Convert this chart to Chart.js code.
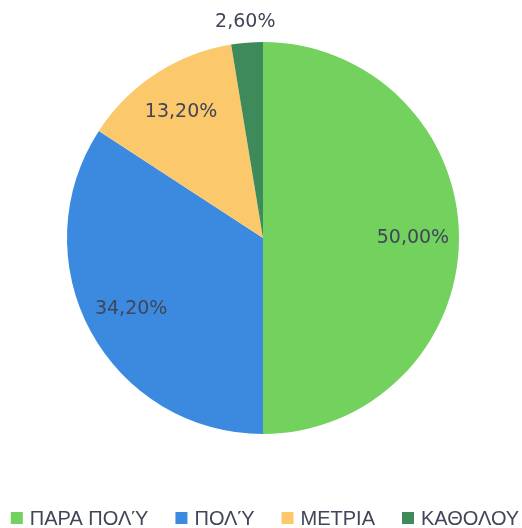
<!DOCTYPE html>
<html>
<head>
<meta charset="utf-8">
<script src="https://cdn.jsdelivr.net/npm/chart.js@4/dist/chart.umd.min.js"></script>
<style>
  html, body { margin: 0; padding: 0; background: #ffffff; }
  #wrap { width: 522px; height: 528px; position: relative; }
</style>
</head>
<body>
<div id="wrap"><canvas id="c" width="522" height="528"></canvas></div>
<script>
const categories = ["ΠΑΡΑ ΠΟΛΎ", "ΠΟΛΎ", "ΜΕΤΡΙΑ", "ΚΑΘΟΛΟΥ"];
const percentages = [50.0, 34.2, 13.2, 2.6];
const valueLabels = ["50,00%", "34,20%", "13,20%", "2,60%"];
const sliceColors = ["#72d25d", "#3b8ae0", "#fbc86c", "#3e8a5a"];
const textColor = "#404658";

const labelPlugin = {
  id: "sliceLabels",
  afterDatasetsDraw(chart) {
    const ctx = chart.ctx;
    const meta = chart.getDatasetMeta(0);
    ctx.save();
    ctx.font = "19px 'DejaVu Sans'";
    ctx.fillStyle = textColor;
    ctx.textAlign = "center";
    ctx.textBaseline = "middle";
    meta.data.forEach((arc, i) => {
      const p = arc.getProps(["x", "y", "startAngle", "endAngle", "outerRadius"], true);
      const mid = (p.startAngle + p.endAngle) / 2;
      const outside = percentages[i] < 5;
      const dist = outside ? p.outerRadius + 21 : p.outerRadius * 0.765;
      ctx.fillText(valueLabels[i], p.x + Math.cos(mid) * dist, p.y + Math.sin(mid) * dist);
    });
    ctx.restore();
  }
};

const legendPlugin = {
  id: "bottomLegend",
  afterDraw(chart) {
    const ctx = chart.ctx;
    ctx.save();
    ctx.font = "20px 'Liberation Sans'";
    ctx.textBaseline = "middle";
    ctx.textAlign = "left";
    const box = 12, gap = 7, spacing = 27;
    const widths = categories.map(t => box + gap + ctx.measureText(t).width);
    const total = widths.reduce((a, b) => a + b, 0) + spacing * (categories.length - 1);
    let x = (chart.width - total) / 2 + 4;
    const y = 518;
    categories.forEach((t, i) => {
      ctx.fillStyle = sliceColors[i];
      ctx.fillRect(x, y - box / 2, box, box);
      ctx.fillStyle = textColor;
      ctx.fillText(t, x + box + gap, y + 1);
      x += widths[i] + spacing;
    });
    ctx.restore();
  }
};

new Chart(document.getElementById("c"), {
  type: "pie",
  data: {
    labels: categories,
    datasets: [{
      data: percentages,
      backgroundColor: sliceColors,
      borderWidth: 0
    }]
  },
  options: {
    responsive: false,
    animation: false,
    layout: { padding: { left: 67, right: 63, top: 42, bottom: 94 } },
    plugins: {
      legend: { display: false },
      tooltip: { enabled: false }
    }
  },
  plugins: [labelPlugin, legendPlugin]
});
</script>
</body>
</html>
